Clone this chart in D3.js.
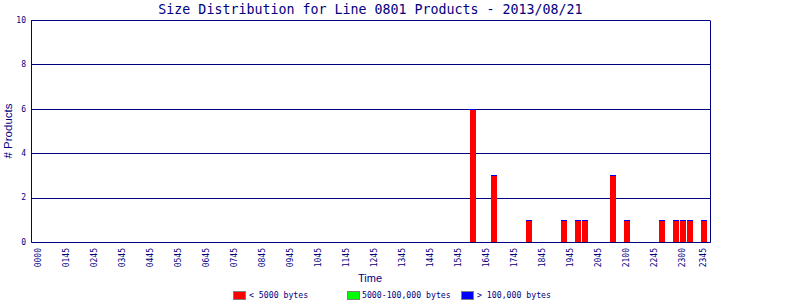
<!DOCTYPE html>
<html>
<head>
<meta charset="utf-8">
<script src="https://cdn.jsdelivr.net/npm/d3@7"></script>
<style>
  body { margin: 0; background: #fff; }
  svg { display: block; }
  text { fill: #000080; }
</style>
</head>
<body>
<div id="chart"></div>
<script>
// 96 quarter-hour slots of the day
const slots = d3.range(96);
// labels printed under the axis, and the slot each one sits on
const tickLabels = ["0000", "0145", "0245", "0345", "0445", "0545", "0645", "0745", "0845",
  "0945", "1045", "1145", "1245", "1345", "1445", "1545", "1645", "1745", "1845", "1945",
  "2045", "2100", "2245", "2300", "2345"];
const tickSlots = [0, 4, 8, 12, 16, 20, 24, 28, 32, 36, 40, 44, 48, 52, 56, 60, 64, 68, 72,
  76, 80, 84, 88, 92, 95];

// slots that had products, and counts per size class
const barSlots   = [62, 65, 70, 75, 77, 78, 82, 84, 89, 91, 92, 93, 95];
const smallCount = [6, 3, 1, 1, 1, 1, 3, 1, 1, 1, 1, 1, 1];   // < 5000 bytes
const midCount   = [0, 0, 0, 0, 0, 0, 0, 0, 0, 0, 0, 0, 0];   // 5000-100,000 bytes
const largeCount = [0, 0, 0, 0, 0, 0, 0, 0, 0, 0, 0, 0, 0];   // > 100,000 bytes

const yTicks = [0, 2, 4, 6, 8, 10];
const legendNames = ["< 5000 bytes", "5000-100,000 bytes", "> 100,000 bytes"];
const legendColors = ["#ff0000", "#00ff00", "#0000ff"];

const width = 800, height = 300;
const navy = "#000080";

const svg = d3.select("#chart").append("svg")
  .attr("width", width)
  .attr("height", height)
  .style("font-family", "'DejaVu Sans Mono', monospace");

const x = d3.scaleBand().domain(slots).range([35.5, 707.5])
  .paddingInner(1 / 7).paddingOuter(1 / 14);
const y = d3.scaleLinear().domain([0, 10]).range([242, 20]);
const left = 31, right = 710;

// gridlines
svg.selectAll(".grid")
  .data(yTicks.filter(d => d > 0))
  .enter().append("line")
    .attr("class", "grid")
    .attr("x1", left).attr("x2", right)
    .attr("y1", d => Math.round(y(d)) + 0.5)
    .attr("y2", d => Math.round(y(d)) + 0.5)
    .attr("stroke", navy);

// bars: stacked small / mid / large
const rows = barSlots.map((s, i) => ({ slot: s, small: smallCount[i], mid: midCount[i], large: largeCount[i] }));
const stack = d3.stack().keys(["small", "mid", "large"])(rows);

svg.append("g").selectAll("g")
  .data(stack)
  .enter().append("g")
    .attr("fill", (d, i) => legendColors[i])
  .selectAll("rect")
  .data(d => d)
  .enter().append("rect")
    .attr("shape-rendering", "crispEdges")
    .attr("x", d => x(d.data.slot))
    .attr("width", x.bandwidth())
    .attr("y", d => Math.round(y(d[1])))
    .attr("height", d => Math.round(y(d[0])) - Math.round(y(d[1])));

// thin blue cap on each bar top
svg.append("g").selectAll("rect")
  .data(rows)
  .enter().append("rect")
    .attr("shape-rendering", "crispEdges")
    .attr("x", d => x(d.slot))
    .attr("width", x.bandwidth())
    .attr("y", d => Math.round(y(d.small + d.mid + d.large)))
    .attr("height", 1)
    .attr("fill", "#0000ff");

// frame
svg.append("path")
  .attr("d", `M${left + 0.5},${Math.round(y(10)) + 0.5}V${y(0) + 0.5}H${right + 0.5}V${Math.round(y(10)) + 0.5}`)
  .attr("fill", "none")
  .attr("stroke", navy);

// y tick labels
svg.selectAll(".ylab")
  .data(yTicks)
  .enter().append("text")
    .attr("class", "ylab")
    .attr("x", 26)
    .attr("y", d => y(d))
    .attr("dy", "0.35em")
    .attr("text-anchor", "end")
    .style("font-size", "8px")
    .text(d => d);

// x tick labels (rotated)
svg.selectAll(".xlab")
  .data(tickLabels)
  .enter().append("text")
    .attr("class", "xlab")
    .attr("transform", (d, i) => `translate(${x(tickSlots[i]) + x.bandwidth() / 2 - 1},248) rotate(-90)`)
    .attr("dy", "0.35em")
    .attr("text-anchor", "end")
    .style("font-size", "8px")
    .text(d => d);

// title
svg.append("text")
  .attr("x", (left + right) / 2)
  .attr("y", 13.5)
  .attr("text-anchor", "middle")
  .style("font-size", "13.3px")
  .text("Size Distribution for Line 0801 Products - 2013/08/21");

// axis titles
svg.append("text")
  .attr("x", 370)
  .attr("y", 282)
  .attr("text-anchor", "middle")
  .style("font-family", "'Liberation Sans', Arial, sans-serif")
  .style("font-size", "11px")
  .text("Time");

svg.append("text")
  .attr("transform", "translate(12,131) rotate(-90)")
  .attr("text-anchor", "middle")
  .style("font-family", "'Liberation Sans', Arial, sans-serif")
  .style("font-size", "11.5px")
  .text("# Products");

// legend
const legendX = [233, 347, 461];
const legend = svg.selectAll(".leg")
  .data(legendNames)
  .enter().append("g")
    .attr("class", "leg")
    .attr("transform", (d, i) => `translate(${legendX[i]},291)`);

legend.append("rect")
  .attr("x", 0.5).attr("y", 0.5)
  .attr("width", 12).attr("height", 8)
  .attr("fill", (d, i) => legendColors[i])
  .attr("stroke", "#808080");

legend.append("text")
  .attr("x", (d, i) => i === 1 ? 15 : 16)
  .attr("y", 4.5)
  .attr("dy", "0.35em")
  .style("font-size", "8.2px")
  .text(d => d);
</script>
</body>
</html>
